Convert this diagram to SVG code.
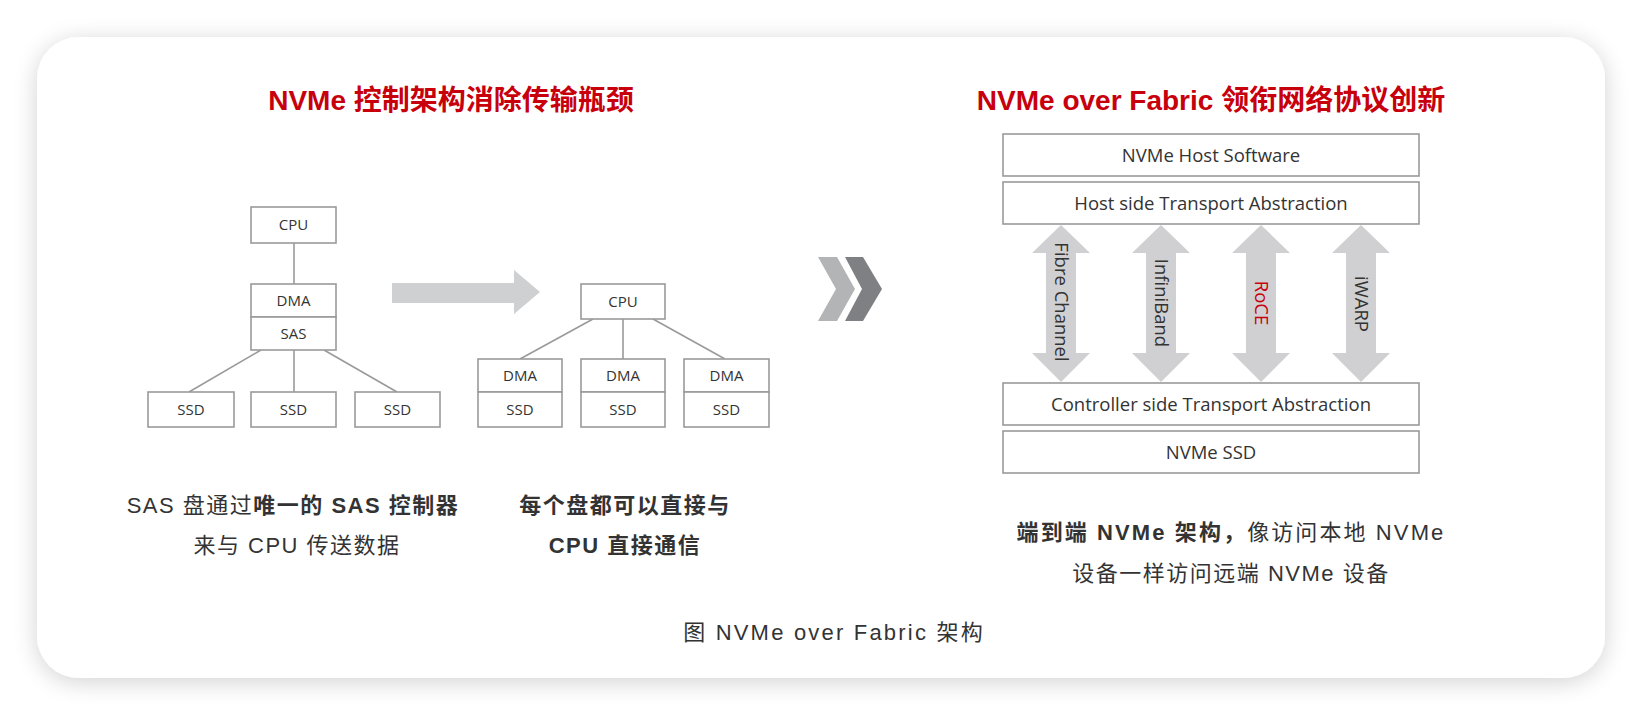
<svg xmlns="http://www.w3.org/2000/svg" width="1642" height="714" viewBox="0 0 1642 714">
<defs>
<filter id="sh" x="-10%" y="-10%" width="120%" height="120%">
<feGaussianBlur in="SourceAlpha" stdDeviation="12"/>
<feOffset dx="0" dy="4"/>
<feComponentTransfer><feFuncA type="linear" slope="0.18"/></feComponentTransfer>
<feMerge><feMergeNode/><feMergeNode in="SourceGraphic"/></feMerge>
</filter>
<style>
.box{fill:#fff;stroke:#9a9a9a;stroke-width:1.6}
.bt{font-family:"Open Sans","Noto Sans",sans-serif;font-size:15px;fill:#333;text-anchor:middle}
.st{font-family:"Open Sans","Noto Sans",sans-serif;font-size:18.5px;fill:#333;text-anchor:middle}
.ln{stroke:#9a9a9a;stroke-width:1.6;fill:none}
.title{font-family:"Liberation Sans","Noto Sans CJK SC",sans-serif;font-size:28px;font-weight:bold;fill:#c7000b;text-anchor:middle}
.cap{font-family:"Liberation Sans","Noto Sans CJK SC",sans-serif;font-size:22px;fill:#333;text-anchor:middle;letter-spacing:1.5px}
.b{font-weight:bold}
.darr{fill:#d0d0d2}
</style>
</defs>
<rect width="1642" height="714" fill="#fff"/>
<rect x="37" y="37" width="1568" height="641" rx="42" fill="#fff" filter="url(#sh)"/>

<text class="title" x="451" y="110">NVMe 控制架构消除传输瓶颈</text>
<text class="title" x="1211" y="110">NVMe over Fabric 领衔网络协议创新</text>

<g id="connectors">
<line class="ln" x1="294" y1="243" x2="294" y2="284"/>
<line class="ln" x1="261" y1="350" x2="189" y2="392"/>
<line class="ln" x1="294" y1="350" x2="294" y2="392"/>
<line class="ln" x1="324" y1="350" x2="397" y2="392"/>
<line class="ln" x1="593" y1="319" x2="520" y2="359"/>
<line class="ln" x1="623" y1="319" x2="623" y2="359"/>
<line class="ln" x1="653" y1="319" x2="725" y2="359"/>
<polygon fill="#cfd0d2" points="392,283 514,283 514,270 540,292 514,314 514,303 392,303"/>
<polygon fill="#b3b4b6" points="818,257 837,257 855,289 837,321 818,321 836,289"/>
<polygon fill="#7f8083" points="845,257 863,257 882,289 863,321 845,321 862,289"/>
</g>

<g id="l-cpu"><rect class="box" x="251" y="207" width="85" height="36"/><text class="bt" x="293.5" y="230">CPU</text></g>
<g id="l-dma"><rect class="box" x="251" y="284" width="85" height="33"/><text class="bt" x="293.5" y="306">DMA</text></g>
<g id="l-sas"><rect class="box" x="251" y="317" width="85" height="33"/><text class="bt" x="293.5" y="339">SAS</text></g>
<g id="l-ssd1"><rect class="box" x="148" y="392" width="86" height="35"/><text class="bt" x="191" y="415">SSD</text></g>
<g id="l-ssd2"><rect class="box" x="251" y="392" width="85" height="35"/><text class="bt" x="293.5" y="415">SSD</text></g>
<g id="l-ssd3"><rect class="box" x="355" y="392" width="85" height="35"/><text class="bt" x="397.5" y="415">SSD</text></g>

<g id="r-cpu"><rect class="box" x="581" y="284" width="84" height="35"/><text class="bt" x="623" y="307">CPU</text></g>
<g id="r-dma1"><rect class="box" x="478" y="359" width="84" height="33"/><text class="bt" x="520" y="381">DMA</text></g>
<g id="r-ssd1"><rect class="box" x="478" y="392" width="84" height="35"/><text class="bt" x="520" y="415">SSD</text></g>
<g id="r-dma2"><rect class="box" x="581" y="359" width="84" height="33"/><text class="bt" x="623" y="381">DMA</text></g>
<g id="r-ssd2"><rect class="box" x="581" y="392" width="84" height="35"/><text class="bt" x="623" y="415">SSD</text></g>
<g id="r-dma3"><rect class="box" x="684" y="359" width="85" height="33"/><text class="bt" x="726.5" y="381">DMA</text></g>
<g id="r-ssd3"><rect class="box" x="684" y="392" width="85" height="35"/><text class="bt" x="726.5" y="415">SSD</text></g>

<g id="host-sw"><rect class="box" x="1003" y="134" width="416" height="42"/><text class="st" x="1211" y="161.5">NVMe Host Software</text></g>
<g id="host-ta"><rect class="box" x="1003" y="182" width="416" height="42"/><text class="st" x="1211" y="209.5">Host side Transport Abstraction</text></g>
<g id="ctrl-ta"><rect class="box" x="1003" y="383" width="416" height="42"/><text class="st" x="1211" y="410.5">Controller side Transport Abstraction</text></g>
<g id="nvme-ssd"><rect class="box" x="1003" y="431" width="416" height="42"/><text class="st" x="1211" y="458.5">NVMe SSD</text></g>

<g id="fc"><polygon class="darr" points="1061,225 1090,253 1076,253 1076,353 1090,353 1061,382 1032,353 1046,353 1046,253 1032,253"/><text class="st" transform="translate(1061,302) rotate(90)" x="0" y="6.5">Fibre Channel</text></g>
<g id="ib"><polygon class="darr" points="1161,225 1190,253 1176,253 1176,353 1190,353 1161,382 1132,353 1146,353 1146,253 1132,253"/><text class="st" transform="translate(1161,303) rotate(90)" x="0" y="6.5">InfiniBand</text></g>
<g id="roce"><polygon class="darr" points="1261,225 1290,253 1276,253 1276,353 1290,353 1261,382 1232,353 1246,353 1246,253 1232,253"/><text class="st" transform="translate(1261,303) rotate(90)" x="0" y="6.5" style="fill:#c7000b">RoCE</text></g>
<g id="iwarp"><polygon class="darr" points="1361,225 1390,253 1376,253 1376,353 1390,353 1361,382 1332,353 1346,353 1346,253 1332,253"/><text class="st" transform="translate(1361,304) rotate(90)" x="0" y="6.5">iWARP</text></g>

<text class="cap" x="293" y="513">SAS 盘通过<tspan class="b">唯一的 SAS 控制器</tspan></text>
<text class="cap" x="297" y="553">来与 CPU 传送数据</text>
<text class="cap b" x="625" y="513">每个盘都可以直接与</text>
<text class="cap b" x="625" y="553">CPU 直接通信</text>
<text class="cap" x="1231" y="540" style="letter-spacing:2.1px"><tspan class="b">端到端 NVMe 架构，</tspan>像访问本地 NVMe</text>
<text class="cap" x="1231" y="581">设备一样访问远端 NVMe 设备</text>
<text class="cap" x="834" y="640" style="letter-spacing:2.2px">图 NVMe over Fabric 架构</text>
</svg>
